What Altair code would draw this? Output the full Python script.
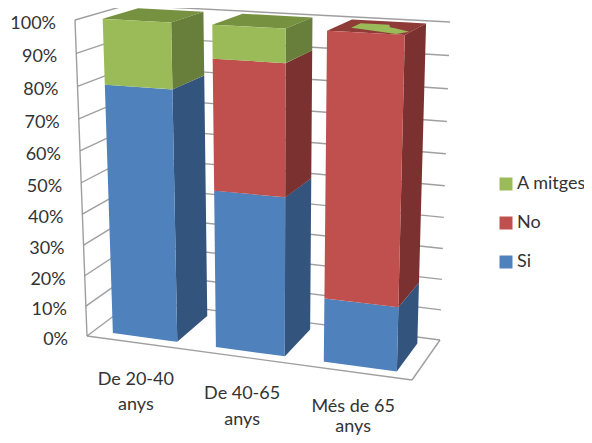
import altair as alt
import pandas as pd

# ---- chart values (percent) ----
categories = [["De 20-40", "anys"], ["De 40-65", "anys"], ["Més de 65", "anys"]]
series_names = ["Si", "No", "A mitges"]
si = [80, 50, 20]
no = [0, 40, 80]
a_mitges = [20, 10, 0]
tick_values = [0, 10, 20, 30, 40, 50, 60, 70, 80, 90, 100]

# ---- styles ----
FRONT = {"Si": "#4F81BD", "No": "#C0504D", "A mitges": "#9BBB59"}
SIDE = {"Si": "#33547C", "No": "#7A312F", "A mitges": "#687E3B"}
TOP = {"No": "#8F3B38", "A mitges": "#76913F", "Si": "#3C628F"}
FONT = "Lato"
TXT = "#333333"
GRID = "#8E8E8E"

# ---- oblique 3-D box of the chart: corner projection ----
FLOOR = {"A": (87, 336), "B": (412, 380), "C": (440, 340), "D": (135, 300)}
CEIL = {"A": (75, 20), "B": (421, 38.5), "C": (450, 22), "D": (127, 5)}
PERSP = 0.062
BAR_U = [(0.058, 0.258), (0.378, 0.592), (0.713, 0.94)]
BAR_W = (0.15, 0.85)


def project(u, w, v):
    t = v / 100
    t = t / (1 + PERSP * (1 - t))
    out = []
    for i in (0, 1):
        f = (1 - u) * (1 - w) * FLOOR["A"][i] + u * (1 - w) * FLOOR["B"][i] + u * w * FLOOR["C"][i] + (1 - u) * w * FLOOR["D"][i]
        c = (1 - u) * (1 - w) * CEIL["A"][i] + u * (1 - w) * CEIL["B"][i] + u * w * CEIL["C"][i] + (1 - u) * w * CEIL["D"][i]
        out.append(f + (c - f) * t)
    return out


def area_rows(pts, **extra):
    """x-monotone polygon -> rows of x, y (upper) and y2 (lower)."""
    xs = sorted({round(p[0], 3) for p in pts})
    rows = []
    n = len(pts)
    for x in xs:
        ys = []
        for i in range(n):
            x0, y0 = pts[i]
            x1, y1 = pts[(i + 1) % n]
            lo, hi = min(x0, x1), max(x0, x1)
            if lo - 0.002 <= x <= hi + 0.002:
                if abs(x1 - x0) < 1e-6:
                    ys += [y0, y1]
                else:
                    s = min(1, max(0, (x - x0) / (x1 - x0)))
                    ys.append(y0 + s * (y1 - y0))
        rows.append({"x": x, "y": min(ys), "y2": max(ys), **extra})
    return rows


front_rows, shade_rows = [], []
w0, w1 = BAR_W
for b, (u0, u1) in enumerate(BAR_U):
    base = 0
    values = {"Si": si[b], "No": no[b], "A mitges": a_mitges[b]}
    last = None
    for name in series_names:
        val = values[name]
        if val == 0:
            continue
        lo, hi = base, base + val
        front_rows += area_rows(
            [project(u0, w0, hi), project(u1, w0, hi), project(u1, w0, lo), project(u0, w0, lo)],
            face=f"f{b}{name}", series=name)
        shade_rows += area_rows(
            [project(u1, w0, hi), project(u1, w1, hi), project(u1, w1, lo), project(u1, w0, lo)],
            face=f"s{b}{name}", fill=SIDE[name])
        base = hi
        last = name
    shade_rows += area_rows(
        [project(u0, w0, base), project(u1, w0, base), project(u1, w1, base), project(u0, w1, base)],
        face=f"t{b}", fill=TOP[last])

# the zero-height "A mitges" slab showing through the top of the third bar
PATCH = [(0.2, 0.35), (0.2, 0.75), (0.58, 0.75), (0.65, 0.55), (0.98, 0.28), (0.88, 0.03)]
u0, u1 = BAR_U[2]
patch_pts = [project(u0 + s * (u1 - u0), w0 + r * (w1 - w0), 100) for s, r in PATCH]
patch_rows = area_rows(patch_pts, face="patch", fill=FRONT["A mitges"])

# ---- wall and floor lines ----
line_rows = []


def add_line(key, a, b):
    line_rows.append({"x": a[0], "y": a[1], "k": key})
    line_rows.append({"x": b[0], "y": b[1], "k": key})


for v in tick_values:
    add_line(f"l{v}", project(0, 0, v), project(0, 1, v))
    add_line(f"b{v}", project(0, 1, v), project(1, 1, v))
add_line("edge", project(0, 0, 0), project(0, 0, 100))
add_line("front", project(0, 0, 0), project(1, 0, 0))
add_line("right", project(1, 0, 0), project(1, 1, 0))

# ---- labels ----
tick_rows = []
for v in tick_values:
    p = project(0, 0, v)
    tick_rows.append({"x": p[0] - 19, "y": p[1] + 4, "t": f"{v}%"})

cat_rows = []
for i, ((u0, u1), lines) in enumerate(zip(BAR_U, categories)):
    p = project((u0 + u1) / 2, 0, 0)
    # the last pair is drawn a little tighter so that it stays on the page
    first, second = (37, 62.5) if i < 2 else (34.5, 54.5)
    cat_rows.append({"x": p[0] - 2.5, "y": p[1] + first, "t": lines[0]})
    cat_rows.append({"x": p[0] - 2.5, "y": p[1] + second, "t": lines[1]})

X = alt.X("x:Q", scale=alt.Scale(domain=[8, 584], nice=False, zero=False), axis=None)
Y = alt.Y("y:Q", scale=alt.Scale(domain=[435, 8], nice=False, zero=False), axis=None, stack=None)

lines = alt.Chart(pd.DataFrame(line_rows)).mark_line(color=GRID, strokeWidth=1.4, opacity=0.85).encode(
    x=X, y=Y, detail="k:N")

front = alt.Chart(pd.DataFrame(front_rows)).mark_area(opacity=1).encode(
    x=X, y=Y, y2="y2:Q", detail="face:N",
    color=alt.Color("series:N",
                    scale=alt.Scale(domain=["A mitges", "No", "Si"],
                                    range=[FRONT["A mitges"], FRONT["No"], FRONT["Si"]]),
                    legend=alt.Legend(orient="none", legendX=489, legendY=167, title=None,
                                      symbolType="square", symbolSize=169, symbolStrokeWidth=0,
                                      labelFont=FONT, labelFontSize=18, labelColor=TXT,
                                      labelOffset=2, rowPadding=21)))

shades = alt.Chart(pd.DataFrame(shade_rows)).mark_area(opacity=1).encode(
    x=X, y=Y, y2="y2:Q", detail="face:N", color=alt.Color("fill:N", scale=None))

patch = alt.Chart(pd.DataFrame(patch_rows)).mark_area(opacity=1).encode(
    x=X, y=Y, y2="y2:Q", detail="face:N", color=alt.Color("fill:N", scale=None))

ticks = alt.Chart(pd.DataFrame(tick_rows)).mark_text(
    align="right", baseline="middle", font=FONT, fontSize=18, color=TXT).encode(x=X, y=Y, text="t:N")

cats = alt.Chart(pd.DataFrame(cat_rows)).mark_text(
    align="center", baseline="middle", font=FONT, fontSize=18, color=TXT).encode(x=X, y=Y, text="t:N")

chart = alt.layer(lines, shades, front, patch, ticks, cats).properties(
    width=576, height=427, padding=0, autosize=alt.AutoSizeParams(type="none")
).configure_view(stroke=None)

chart.save("out.html", embed_options={"renderer": "svg", "actions": False})
